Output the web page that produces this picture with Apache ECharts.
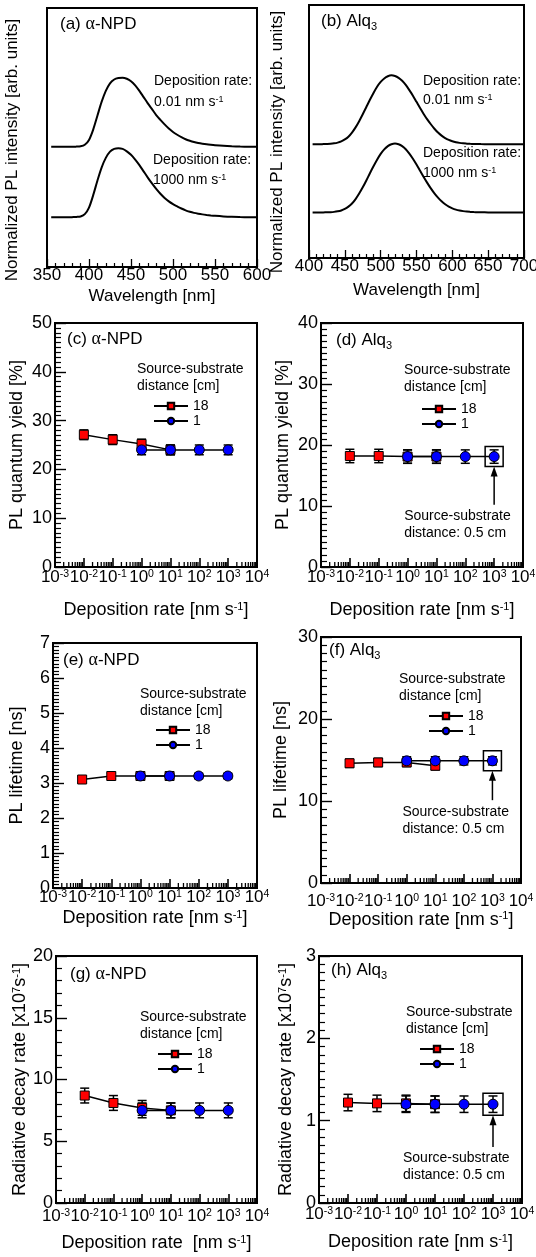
<!DOCTYPE html>
<html>
<head>
<meta charset="utf-8">
<script src="https://cdn.jsdelivr.net/npm/echarts@6/dist/echarts.min.js"></script>
<style>
  html, body { margin: 0; padding: 0; background: #fff; }
  #chart { width: 536px; height: 1257px; }
</style>
</head>
<body>
<div id="chart"></div>
<script>
// ---------- PL spectra (intensity normalized to the peak) ----------
const npdWavelength = [355,360,365,370,375,380,385,390,395,400,405,410,415,420,425,430,435,440,445,450,455,460,465,470,475,480,485,490,495,500,505,510,515,520,525,530,535,540,545,550,560,570,580,590,600];
const npdSlow = [0,0,0,0,0,0,0.003,0.008,0.03,0.10,0.25,0.45,0.65,0.81,0.92,0.975,0.995,1.0,0.985,0.95,0.89,0.81,0.72,0.63,0.545,0.46,0.39,0.325,0.265,0.215,0.175,0.14,0.11,0.088,0.07,0.056,0.045,0.036,0.029,0.023,0.014,0.008,0.004,0.002,0.001];
const npdFast = [0,0,0,0,0,0.002,0.005,0.012,0.045,0.14,0.32,0.53,0.72,0.86,0.95,0.99,1.0,0.99,0.955,0.905,0.835,0.755,0.665,0.575,0.49,0.41,0.34,0.28,0.23,0.19,0.158,0.127,0.1,0.08,0.064,0.052,0.042,0.034,0.027,0.021,0.012,0.006,0.003,0.001,0];

const alqWavelength = [405,410,415,420,425,430,435,440,445,450,455,460,465,470,475,480,485,490,495,500,505,510,515,520,525,530,535,540,545,550,555,560,565,570,575,580,585,590,595,600,605,610,615,620,625,630,635,640,650,660,670,680,690,700];
const alqSlow = [0,0,0,0.002,0.004,0.007,0.013,0.024,0.042,0.07,0.11,0.17,0.245,0.335,0.435,0.54,0.645,0.745,0.835,0.905,0.955,0.987,1.0,0.99,0.963,0.92,0.86,0.785,0.705,0.615,0.525,0.44,0.36,0.29,0.225,0.17,0.125,0.09,0.063,0.044,0.03,0.02,0.013,0.009,0.006,0.004,0.003,0.002,0.001,0,0,0,0,0];
const alqFast = [0,0,0,0.001,0.003,0.005,0.009,0.017,0.03,0.052,0.085,0.13,0.195,0.275,0.365,0.465,0.57,0.67,0.765,0.85,0.915,0.962,0.99,1.0,0.99,0.963,0.918,0.855,0.78,0.695,0.605,0.515,0.43,0.35,0.278,0.215,0.162,0.12,0.086,0.061,0.042,0.029,0.02,0.013,0.009,0.006,0.004,0.003,0.001,0,0,0,0,0];

// vertical offsets used to stack the two spectra in each panel
const npdOffsetSlow = 1.74, npdOffsetFast = 0.72;
const alqOffsetSlow = 1.65, alqOffsetFast = 0.66;

// ---------- deposition-rate series ----------
const rates18 = [0.01, 0.1, 1, 10];      // source-substrate distance 18 cm
const rates1 = [1, 10, 100, 1000];       // source-substrate distance 1 cm

const plqyNpd18 = [27.1, 26.1, 25.2, 24.0];
const plqyNpd1  = [24.0, 24.0, 24.0, 24.0];
const plqyAlq18 = [18.2, 18.2, 18.1, 18.1];
const plqyAlq1  = [18.1, 18.1, 18.1, 18.1];
const tauNpd18  = [3.1, 3.2, 3.2, 3.2];
const tauNpd1   = [3.2, 3.2, 3.2, 3.2];
const tauAlq18  = [14.6, 14.7, 14.7, 14.3];
const tauAlq1   = [14.9, 14.9, 14.9, 14.9];
const krNpd18   = [8.7, 8.1, 7.7, 7.5];
const krNpd1    = [7.5, 7.5, 7.5, 7.5];
const krAlq18   = [1.22, 1.21, 1.21, 1.2];
const krAlq1    = [1.2, 1.2, 1.2, 1.2];

// error bar half-widths
const errPlqyNpd = 1.0, errPlqyAlq = 1.1;
const errTauNpd = 0.08, errTauAlq = 0.5;
const errKrNpd = 0.6, errKrAlq = 0.1;

// ---------- styling ----------
const FONT = '"Liberation Sans", Arial, sans-serif';
const SERIF = '"Liberation Serif", "Times New Roman", serif';
const RED = '#ff0000', BLUE = '#0000ff';
const AXIS_LINE = { show: true, onZero: false, lineStyle: { color: '#000', width: 2 } };

const RICH = {
  t: { fontSize: 18, fontFamily: FONT, color: '#000' },
  s: { fontSize: 11, fontFamily: FONT, color: '#000', verticalAlign: 'top' }
};
const TICK_RICH = {
  b: { fontSize: 17, fontFamily: FONT, color: '#000' },
  s: { fontSize: 10.5, fontFamily: FONT, color: '#000', verticalAlign: 'top' }
};
const LABEL_RICH = {
  t: { fontSize: 17, fontFamily: FONT, color: '#000' },
  g: { fontSize: 18, fontFamily: SERIF, color: '#000' },
  sub: { fontSize: 11, fontFamily: FONT, color: '#000', verticalAlign: 'bottom', padding: [10, 0, 0, 0] }
};
const SMALL_RICH = {
  t: { fontSize: 14, fontFamily: FONT, color: '#000' },
  s: { fontSize: 9, fontFamily: FONT, color: '#000', verticalAlign: 'top' }
};

const grids = [], xAxes = [], yAxes = [], series = [], legends = [], texts = [];

function gridBox(box) {
  return Object.assign({
    show: true, borderColor: '#000', borderWidth: 2, backgroundColor: 'transparent',
    containLabel: false, outerBoundsMode: 'none'
  }, box);
}

function decadeLabel(v) {
  const e = Math.round(Math.log10(v));
  return '{b|10}{s|' + e + '}';
}

// ---------- spectrum panels ----------
function spectrumPanel(gi, box, xr, yMax, xLabelMargin, xNameGap, wl, slow, fast, offSlow, offFast) {
  grids.push(gridBox(box));
  xAxes.push({
    gridIndex: gi, type: 'value', min: xr[0], max: xr[1], interval: 50,
    axisLine: AXIS_LINE,
    axisTick: { show: true, inside: true, length: 8, lineStyle: { color: '#000', width: 1.3 } },
    minorTick: { show: true, splitNumber: 5, length: 4, lineStyle: { color: '#000', width: 1.2 } },
    axisLabel: { fontSize: 17, fontFamily: FONT, color: '#000', margin: xLabelMargin,
                 showMinLabel: true, showMaxLabel: true, hideOverlap: false },
    splitLine: { show: false },
    name: 'Wavelength [nm]', nameLocation: 'middle', nameGap: xNameGap,
    nameTextStyle: { fontSize: 17, fontFamily: FONT, color: '#000' }
  });
  yAxes.push({
    gridIndex: gi, type: 'value', min: 0, max: yMax,
    axisLine: AXIS_LINE, axisTick: { show: false }, axisLabel: { show: false },
    splitLine: { show: false }
  });
  const lineCommon = {
    type: 'line', xAxisIndex: gi, yAxisIndex: gi, symbol: 'none', smooth: 0.3,
    lineStyle: { color: '#000', width: 2 }, silent: true
  };
  series.push(Object.assign({ data: wl.map((w, i) => [w, offSlow + slow[i]]) }, lineCommon));
  series.push(Object.assign({ data: wl.map((w, i) => [w, offFast + fast[i]]) }, lineCommon));
}

spectrumPanel(0, { left: 47, top: 8, width: 210, height: 259 }, [350, 600], 3.75, 0, 21,
  npdWavelength, npdSlow, npdFast, npdOffsetSlow, npdOffsetFast);
spectrumPanel(1, { left: 309, top: 5, width: 215, height: 253 }, [400, 700], 3.67, 0, 24,
  alqWavelength, alqSlow, alqFast, alqOffsetSlow, alqOffsetFast);

// rotated intensity axis titles
function verticalTitle(cx, cy, text) {
  texts.push({ type: 'text', x: cx, y: cy, rotation: Math.PI / 2,
               style: { text: text, fontSize: 17, fontFamily: FONT, fill: '#000',
                        textAlign: 'center', textVerticalAlign: 'middle' } });
}
verticalTitle(12, 150, 'Normalized PL intensity [arb. units]');
verticalTitle(277, 142, 'Normalized PL intensity [arb. units]');

// ---------- deposition-rate panels ----------
// minor ticks of the logarithmic rate axis (2..9 in every decade)
const logMinorTicks = [];
for (let d = -3; d < 4; d++) {
  for (let k = 2; k <= 9; k++) logMinorTicks.push([k * Math.pow(10, d), 0]);
}

function minorTickItem(params, api) {
  const p = api.coord([api.value(0), 0]);
  return { type: 'line', shape: { x1: p[0], y1: p[1], x2: p[0], y2: p[1] - 5 },
           style: { stroke: '#000', lineWidth: 1.3 } };
}

function errorBarItem(params, api) {
  const x = api.value(0), y = api.value(1), e = api.value(2);
  const hi = api.coord([x, y + e]), lo = api.coord([x, y - e]);
  const w = 4.5;
  const st = { stroke: '#000', lineWidth: 1.5 };
  return { type: 'group', children: [
    { type: 'line', shape: { x1: hi[0], y1: hi[1], x2: lo[0], y2: lo[1] }, style: st },
    { type: 'line', shape: { x1: hi[0] - w, y1: hi[1], x2: hi[0] + w, y2: hi[1] }, style: st },
    { type: 'line', shape: { x1: lo[0] - w, y1: lo[1], x2: lo[0] + w, y2: lo[1] }, style: st }
  ] };
}

function annotationItem(boxW, boxH) {
  return function (params, api) {
    const c = api.coord([api.value(0), api.value(1)]);
    const t = api.coord([api.value(0), api.value(2)]);
    const tipY = c[1] + boxH / 2;
    return { type: 'group', children: [
      { type: 'rect', shape: { x: c[0] - boxW / 2, y: c[1] - boxH / 2, width: boxW, height: boxH },
        style: { fill: 'none', stroke: '#000', lineWidth: 1.5 } },
      { type: 'line', shape: { x1: c[0], y1: t[1], x2: c[0], y2: tipY + 6 },
        style: { stroke: '#000', lineWidth: 1.5 } },
      { type: 'polygon', shape: { points: [[c[0], tipY], [c[0] - 3.5, tipY + 10], [c[0] + 3.5, tipY + 10]] },
        style: { fill: '#000' } },
      { type: 'text', x: c[0] - 90, y: t[1] + 3,
        style: { text: 'Source-substrate\ndistance: 0.5 cm', fontSize: 14, fontFamily: FONT,
                 fill: '#000', lineHeight: 17 } }
    ] };
  };
}

const rateName = '{t|Deposition rate [nm s}{s|-1}{t|]}';
const rateName2 = '{t|Deposition rate  [nm s}{s|-1}{t|]}';
const krName = '{t|Radiative decay rate [x10}{s|7}{t|s}{s|-1}{t|]}';

function ratePanel(gi, cfg) {
  grids.push(gridBox(cfg.box));
  xAxes.push({
    gridIndex: gi, type: 'log', logBase: 10, min: 0.001, max: 10000, interval: 1,
    axisLine: AXIS_LINE,
    axisTick: { show: true, inside: true, length: 9, lineStyle: { color: '#000', width: 1.6 } },
    axisLabel: { formatter: decadeLabel, rich: TICK_RICH, margin: cfg.xLabelMargin,
                 showMinLabel: true, showMaxLabel: true, hideOverlap: false },
    splitLine: { show: false },
    name: cfg.xName, nameLocation: 'middle', nameGap: cfg.xNameGap,
    nameTextStyle: { rich: RICH }
  });
  yAxes.push({
    gridIndex: gi, type: 'value', min: 0, max: cfg.yMax, interval: cfg.yInterval,
    axisLine: AXIS_LINE,
    axisTick: { show: true, inside: true, length: 11, lineStyle: { color: '#000', width: 1.4 } },
    minorTick: { show: true, splitNumber: cfg.yMinor, length: 6, lineStyle: { color: '#000', width: 1.2 } },
    axisLabel: { fontSize: 18, fontFamily: FONT, color: '#000', margin: 3,
                 showMinLabel: true, showMaxLabel: true, hideOverlap: false },
    splitLine: { show: false },
    name: cfg.yName, nameLocation: 'middle', nameGap: cfg.yNameGap,
    nameTextStyle: { fontSize: 18, fontFamily: FONT, color: '#000', rich: RICH }
  });
  series.push({ type: 'custom', xAxisIndex: gi, yAxisIndex: gi, renderItem: minorTickItem,
                data: logMinorTicks, silent: true, z: 5 });
  series.push({ type: 'custom', xAxisIndex: gi, yAxisIndex: gi, renderItem: errorBarItem,
                data: rates18.map((x, i) => [x, cfg.y18[i], cfg.err]), silent: true, z: 2 });
  series.push({ type: 'custom', xAxisIndex: gi, yAxisIndex: gi, renderItem: errorBarItem,
                data: rates1.map((x, i) => [x, cfg.y1[i], cfg.err]), silent: true, z: 2 });
  series.push({
    name: '18', type: 'line', xAxisIndex: gi, yAxisIndex: gi, z: 3,
    data: rates18.map((x, i) => [x, cfg.y18[i]]),
    symbol: 'rect', symbolSize: 9, showSymbol: true,
    itemStyle: { color: RED, borderColor: '#000', borderWidth: 1 },
    lineStyle: { color: '#000', width: 1.5 }
  });
  series.push({
    name: '1', type: 'line', xAxisIndex: gi, yAxisIndex: gi, z: 3,
    data: rates1.map((x, i) => [x, cfg.y1[i]]),
    symbol: 'circle', symbolSize: 10, showSymbol: true,
    itemStyle: { color: BLUE, borderColor: '#000', borderWidth: 1 },
    lineStyle: { color: '#000', width: 1.5 }
  });
  if (cfg.note) {
    series.push({ type: 'custom', xAxisIndex: gi, yAxisIndex: gi, z: 4, silent: true,
                  renderItem: annotationItem(cfg.note.w, cfg.note.h), data: [cfg.note.at] });
  }
  legends.push({
    left: cfg.legend[0], top: cfg.legend[1], orient: 'vertical', padding: 0,
    itemWidth: 34, itemHeight: 8, itemGap: 1, selectedMode: false,
    textStyle: { fontSize: 14, fontFamily: FONT, color: '#000' },
    data: [{ name: '18' }, { name: '1' }]
  });
  texts.push({ type: 'text', left: cfg.legendTitle[0], top: cfg.legendTitle[1],
               style: { text: 'Source-substrate\n' + 'distance [cm]', fontSize: 14, fontFamily: FONT,
                        fill: '#000', lineHeight: 17 } });
}

ratePanel(2, { box: { left: 55, top: 323, width: 202, height: 244 }, yMax: 50, yInterval: 10, yMinor: 10,
  yName: 'PL quantum yield [%]', yNameGap: 29, xName: rateName, xNameGap: 34, xLabelMargin: 2,
  y18: plqyNpd18, y1: plqyNpd1, err: errPlqyNpd, legend: [153, 399], legendTitle: [137, 361] });
ratePanel(3, { box: { left: 321, top: 323, width: 202, height: 244 }, yMax: 40, yInterval: 10, yMinor: 10,
  yName: 'PL quantum yield [%]', yNameGap: 29, xName: rateName, xNameGap: 34, xLabelMargin: 2,
  y18: plqyAlq18, y1: plqyAlq1, err: errPlqyAlq, legend: [421, 402], legendTitle: [404, 362],
  note: { at: [1000, 18.1, 10.2], w: 18, h: 20 } });
ratePanel(4, { box: { left: 53, top: 643, width: 204, height: 245 }, yMax: 7, yInterval: 1, yMinor: 10,
  yName: 'PL lifetime [ns]', yNameGap: 27, xName: rateName, xNameGap: 21, xLabelMargin: 1,
  y18: tauNpd18, y1: tauNpd1, err: errTauNpd, legend: [155, 723], legendTitle: [140, 686] });
ratePanel(5, { box: { left: 321, top: 637, width: 200, height: 246 }, yMax: 30, yInterval: 10, yMinor: 10,
  yName: 'PL lifetime [ns]', yNameGap: 31, xName: rateName, xNameGap: 27, xLabelMargin: 10,
  y18: tauAlq18, y1: tauAlq1, err: errTauAlq, legend: [428, 709], legendTitle: [399, 671],
  note: { at: [1000, 14.9, 10.1], w: 18, h: 20 } });
ratePanel(6, { box: { left: 56, top: 956, width: 201, height: 247 }, yMax: 20, yInterval: 5, yMinor: 5,
  yName: krName, yNameGap: 27, xName: rateName2, xNameGap: 31, xLabelMargin: 5,
  y18: krNpd18, y1: krNpd1, err: errKrNpd, legend: [157, 1047], legendTitle: [140, 1009] });
ratePanel(7, { box: { left: 319, top: 956, width: 203, height: 247 }, yMax: 3, yInterval: 1, yMinor: 10,
  yName: krName, yNameGap: 24, xName: rateName, xNameGap: 30, xLabelMargin: 3,
  y18: krAlq18, y1: krAlq1, err: errKrAlq, legend: [419, 1042], legendTitle: [406, 1004],
  note: { at: [1000, 1.2, 0.68], w: 20, h: 22 } });

// ---------- panel captions ----------
function caption(left, top, text) {
  texts.push({ type: 'text', left: left, top: top, style: { text: text, rich: LABEL_RICH, fill: '#000' } });
}
const npdCaption = l => '{t|(' + l + ') }{g|α}{t|-NPD}';
const alqCaption = l => '{t|(' + l + ') Alq}{sub|3}';
caption(60, 15, npdCaption('a'));
caption(321, 13, alqCaption('b'));
caption(67, 330, npdCaption('c'));
caption(336, 332, alqCaption('d'));
caption(63, 651, npdCaption('e'));
caption(329, 642, alqCaption('f'));
caption(70, 965, npdCaption('g'));
caption(331, 962, alqCaption('h'));

// ---------- spectrum annotations ----------
function note(left, top, text) {
  texts.push({ type: 'text', left: left, top: top, style: { text: text, rich: SMALL_RICH, fill: '#000' } });
}
note(154, 74, '{t|Deposition rate:}');
note(154, 95, '{t|0.01 nm s}{s|-1}');
note(153, 153, '{t|Deposition rate:}');
note(153, 173, '{t|1000 nm s}{s|-1}');
note(423, 74, '{t|Deposition rate:}');
note(423, 93, '{t|0.01 nm s}{s|-1}');
note(423, 146, '{t|Deposition rate:}');
note(423, 166, '{t|1000 nm s}{s|-1}');

const chart = echarts.init(document.getElementById('chart'), null, { renderer: 'canvas', width: 536, height: 1257 });
chart.setOption({
  animation: false,
  backgroundColor: '#fff',
  textStyle: { fontFamily: FONT, color: '#000' },
  grid: grids,
  xAxis: xAxes,
  yAxis: yAxes,
  legend: legends,
  series: series,
  graphic: { elements: texts }
});
</script>
</body>
</html>
